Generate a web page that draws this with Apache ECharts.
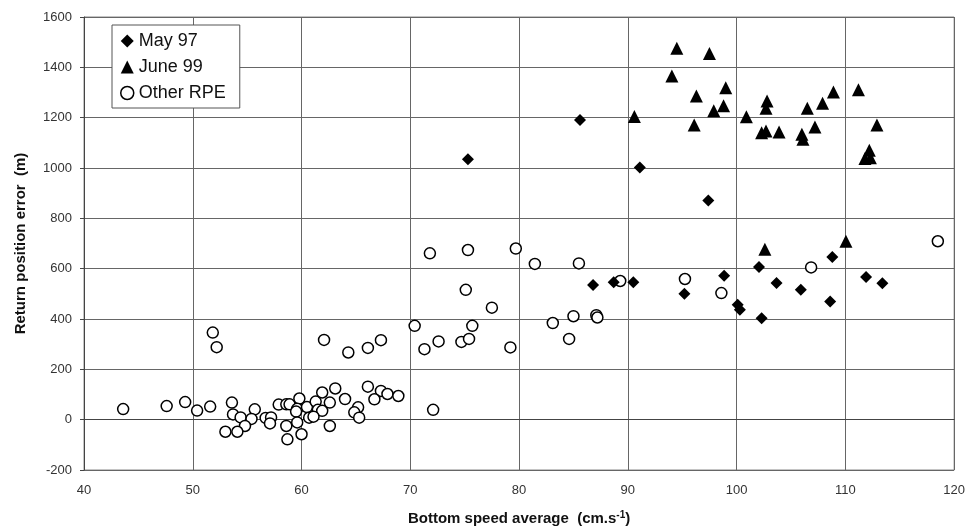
<!DOCTYPE html>
<html>
<head>
<meta charset="utf-8">
<script src="https://cdn.jsdelivr.net/npm/echarts@6/dist/echarts.min.js"></script>
<style>html,body{margin:0;padding:0;background:#fff}#c{width:968px;height:532px}</style>
</head>
<body>
<div id="c"></div>
<script>
const xTicks = [40, 50, 60, 70, 80, 90, 100, 110, 120];
const yTicks = [-200, 0, 200, 400, 600, 800, 1000, 1200, 1400, 1600];

const may97 = [
  [75.3,1035],[85.6,1191],[91.1,1002],[97.4,871],[86.8,535],[88.7,546],[90.5,546],
  [95.2,500],[98.85,572],[100.1,457],[100.3,437],[102.3,403],[102.06,607],[103.67,543],
  [105.9,516],[108.6,470],[108.8,646],[111.9,567],[113.4,542]
];
const june99 = [
  [94.5,1476],[97.5,1455],[94.05,1366],[96.3,1286],[99.0,1319],[98.8,1247],[97.9,1227],
  [96.1,1171],[90.6,1205],[100.9,1204],[102.8,1266],[102.7,1237],[102.7,1147],[102.3,1140],
  [103.9,1143],[106.0,1134],[106.1,1114],[106.5,1237],[107.2,1163],[107.9,1257],[108.9,1302],
  [111.2,1311],[112.9,1171],[112.2,1071],[111.8,1038],[112.3,1041],[102.6,677],[110.05,709]
];
const otherRPE = [
  [43.6,42],[47.6,54],[49.3,70],[50.4,36],[51.6,52],[51.84,346],[52.2,288],[53.6,68],
  [53.7,21],[54.4,9],[55.7,41],[55.4,3],[54.8,-25],[53.0,-48],[54.1,-48],[56.7,7],
  [57.2,9],[57.1,-15],[57.9,60],[58.6,61],[58.9,61],[59.8,84],[59.6,43],[59.5,32],
  [58.6,-25],[59.6,-11],[58.7,-78],[60.0,-58],[60.5,50],[60.7,8],[61.3,72],[61.5,39],
  [61.9,35],[61.9,108],[61.1,12],[62.6,68],[62.6,-25],[63.1,124],[64.0,82],[62.07,317],
  [64.3,267],[66.1,131],[67.3,114],[67.9,102],[68.9,94],[66.7,81],[65.2,49],[64.85,29],
  [65.3,8],[72.1,39],
  [71.8,661],[75.3,674],[79.7,680],[75.1,516],[77.5,445],[70.4,373],[75.7,373],[67.3,316],
  [66.1,285],[71.3,280],[72.6,311],[74.7,309],[75.4,321],[79.2,287],[81.45,619],[85.5,621],
  [89.3,551],[95.25,559],[83.1,384],[85.0,411],[87.1,415],[87.2,406],[84.6,321],[98.6,503],
  [106.85,605],[118.5,709]
];

const chart = echarts.init(document.getElementById('c'));
const tickFont = {fontFamily: '"Liberation Sans Narrow", "Liberation Sans", Arial, sans-serif', fontSize: 13, color: '#333'};
const gridLine = {show: true, lineStyle: {color: '#666', width: 1}};
chart.setOption({
  animation: false,
  backgroundColor: '#fff',
  grid: {left: 84, right: 11, top: 17, bottom: 62, show: true, borderColor: '#888', borderWidth: 1},
  legend: {
    show: true, orient: 'vertical', left: 112, top: 25,
    backgroundColor: '#fff', borderColor: '#555', borderWidth: 1,
    padding: [7, 14, 6, 8], itemGap: 8, itemWidth: 13, itemHeight: 13,
    textStyle: {fontFamily: '"Liberation Sans", Arial, sans-serif', fontSize: 18, color: '#111', padding: [0,0,0,0]},
    data: [
      {name: 'May 97', icon: 'diamond'},
      {name: 'June 99', icon: 'triangle'},
      {name: 'Other RPE', icon: 'circle', itemStyle: {color: '#fff', borderColor: '#000', borderWidth: 1.5}}
    ]
  },
  xAxis: {
    type: 'value', min: xTicks[0], max: xTicks[xTicks.length-1], interval: 10,
    name: 'Bottom speed average  (cm.s{sup|-1})', nameLocation: 'middle', nameGap: 40,
    nameTextStyle: {fontFamily: '"Liberation Sans", Arial, sans-serif', fontWeight: 'bold', fontSize: 15, color: '#111',
      rich: {sup: {fontSize: 10, fontWeight: 'bold', verticalAlign: 'top', padding: [0,0,8,0], color: '#111'}}},
    axisLine: {show: true, lineStyle: {color: '#444', width: 1}},
    axisTick: {show: false},
    axisLabel: Object.assign({margin: 14, formatter: v => String(v)}, tickFont),
    splitLine: gridLine
  },
  yAxis: {
    type: 'value', min: yTicks[0], max: yTicks[yTicks.length-1], interval: 200,
    name: 'Return position error  (m)', nameLocation: 'middle', nameGap: 56, nameRotate: 90,
    nameTextStyle: {fontFamily: '"Liberation Sans", Arial, sans-serif', fontWeight: 'bold', fontSize: 15, color: '#111'},
    axisLine: {show: true, lineStyle: {color: '#444', width: 1}},
    axisTick: {show: true, inside: false, length: 4, lineStyle: {color: '#444'}},
    axisLabel: Object.assign({margin: 12, formatter: v => String(v)}, tickFont),
    splitLine: gridLine
  },
  series: [
    {name: 'May 97', type: 'scatter', symbol: 'diamond', symbolSize: 12, data: may97,
      itemStyle: {color: '#000', opacity: 1}, z: 3},
    {name: 'June 99', type: 'scatter', symbol: 'triangle', symbolSize: 13, data: june99,
      itemStyle: {color: '#000', opacity: 1}, z: 3},
    {name: 'Other RPE', type: 'scatter', symbol: 'circle', symbolSize: 11, data: otherRPE,
      itemStyle: {color: '#fff', borderColor: '#000', borderWidth: 1.5, opacity: 1}, z: 2}
  ]
});
</script>
</body>
</html>
